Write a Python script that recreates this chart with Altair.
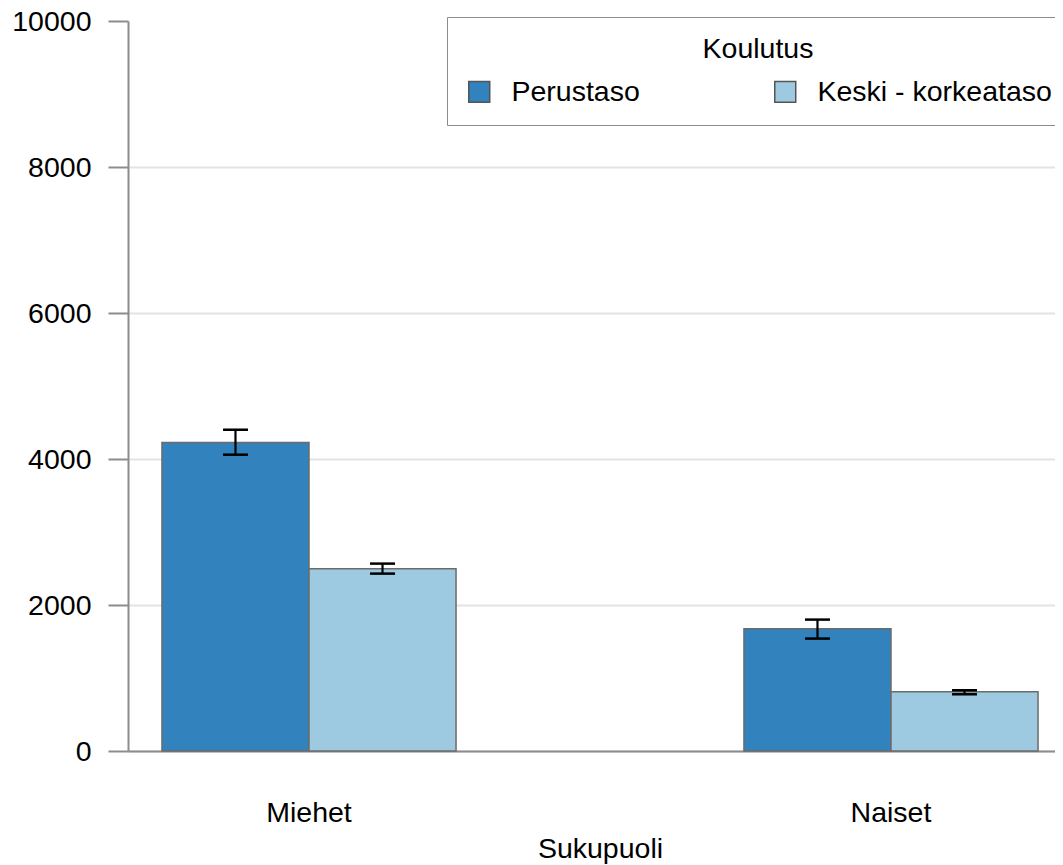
import altair as alt
import pandas as pd

# --- data ---
sukupuoli = ["Miehet", "Miehet", "Naiset", "Naiset"]
koulutus = ["Perustaso", "Keski - korkeataso", "Perustaso", "Keski - korkeataso"]
arvo = [4225, 2498, 1673, 810]
ala = [4059, 2430, 1540, 777]
yla = [4401, 2567, 1800, 832]
ryhmat = ["Miehet", "Naiset"]
tasot = ["Perustaso", "Keski - korkeataso"]
varit = ["#3182bd", "#9ecae1"]
y_ticks = [0, 2000, 4000, 6000, 8000, 10000]

df = pd.DataFrame({
    "Sukupuoli": sukupuoli,
    "Koulutus": koulutus,
    "Arvo": arvo,
    "Ala": ala,
    "Yla": yla,
})

FONT = "Liberation Sans"
FS = 28.5
GRAY = "#8c8c8c"

x_axis = alt.Axis(
    title="Sukupuoli", labelAngle=0, ticks=False, tickSize=0, labelPadding=47,
    domainColor=GRAY, domainWidth=2, grid=False,
    labelFont=FONT, labelFontSize=FS, labelColor="black",
    titleFont=FONT, titleFontSize=FS, titleFontWeight="normal", titleColor="black",
    titleX=472, titleY=83, titleAlign="center", titleBaseline="top",
)
x_scale = alt.Scale(domain=ryhmat, range=[0, 944], paddingInner=0.378, paddingOuter=0)
xo_scale = alt.Scale(domain=tasot, paddingInner=0, paddingOuter=0.231)

y_axis = alt.Axis(
    title=None, values=y_ticks, format="d", tickSize=20, tickColor=GRAY, tickWidth=2,
    domainColor=GRAY, domainWidth=2, labelPadding=17,
    labelFont=FONT, labelFontSize=FS, labelColor="black",
    gridColor={"condition": {"test": "datum.value >= 10000", "value": "transparent"},
               "value": "#e3e3e3"},
    gridWidth=2,
)
y_scale = alt.Scale(domain=[0, 10000], nice=False)

X = alt.X("Sukupuoli:N", scale=x_scale, axis=x_axis)
XO = alt.XOffset("Koulutus:N", scale=xo_scale)

legend = alt.Legend(
    title="Koulutus", orient="none", legendX=319, legendY=-4, direction="horizontal",
    fillColor="white", strokeColor=GRAY, padding=18,
    titleAnchor="middle", titleFont=FONT, titleFontSize=FS, titleFontWeight="normal",
    titleColor="black", titlePadding=14,
    labelFont=FONT, labelFontSize=FS, labelColor="black", labelLimit=600, labelOffset=18,
    symbolType="square", symbolSize=440, symbolStrokeColor="#555555",
    symbolStrokeWidth=1.5, symbolOpacity=1, columnPadding=131,
)

base = alt.Chart(df)

bars = base.mark_bar(stroke="#6b6b6b", strokeWidth=1.5, opacity=1).encode(
    x=X, xOffset=XO,
    y=alt.Y("Arvo:Q", scale=y_scale, axis=y_axis),
    color=alt.Color("Koulutus:N", scale=alt.Scale(domain=tasot, range=varit), legend=legend),
)

rules = base.mark_rule(color="black", strokeWidth=2.2).encode(
    x=X, xOffset=XO,
    y=alt.Y("Ala:Q", scale=y_scale, axis=y_axis),
    y2="Yla:Q",
)

caps_lo = base.mark_tick(color="black", thickness=2.5, size=25, opacity=1).encode(
    x=X, xOffset=XO, y=alt.Y("Ala:Q", scale=y_scale, axis=y_axis),
)
caps_hi = base.mark_tick(color="black", thickness=2.5, size=25, opacity=1).encode(
    x=X, xOffset=XO, y=alt.Y("Yla:Q", scale=y_scale, axis=y_axis),
)

chart = alt.layer(bars, rules, caps_lo, caps_hi).properties(
    width=927, height=730,
    autosize=alt.AutoSizeParams(type="none"),
    padding={"left": 120, "top": 13, "right": 0, "bottom": 114},
    background="white",
).configure_view(stroke=None)

chart.save("out.html", embed_options={"renderer": "svg", "actions": False})
